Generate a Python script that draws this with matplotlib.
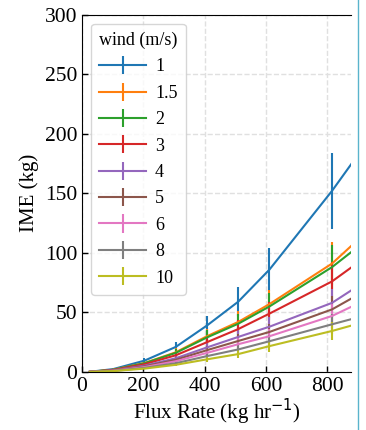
import numpy as np
import matplotlib
matplotlib.use("Agg")
import matplotlib.pyplot as plt
from matplotlib.lines import Line2D

plt.rcParams['font.family'] = 'Liberation Serif'
plt.rcParams['font.size'] = 15

# flux rates (kg/hr) of the simulated points
flux = [25.5, 102, 204, 306, 408, 510, 612, 816, 1020]

winds = ['1', '1.5', '2', '3', '4', '5', '6', '8', '10']

ime_1 = [0.15, 2.4, 9.5, 21, 39, 59, 86, 152, 225]
ime_15 = [0.1, 1.9, 7.5, 16.5, 30, 42, 57, 91, 139]
ime_2 = [0.1, 1.8, 7.3, 16, 29, 40.5, 55, 88, 129]
ime_3 = [0.1, 1.6, 6.5, 14, 25, 36, 49, 76, 114]
ime_4 = [0.08, 1.3, 5.3, 11.5, 20.6, 29.4, 38, 58, 92]
ime_5 = [0.07, 1.2, 4.7, 10.2, 18.3, 26, 33.6, 52.5, 82]
ime_6 = [0.06, 1.0, 4.1, 9, 16, 23.3, 30, 47, 72]
ime_8 = [0.05, 0.85, 3.4, 7.3, 13.3, 18.9, 25.8, 40, 54]
ime_10 = [0.04, 0.7, 2.8, 6, 10.6, 15, 21.7, 34.4, 49]

err_1 = [0.03, 0.5, 2, 4.5, 8, 12, 18, 32, 47]
err_15 = [0.02, 0.4, 1.6, 3.5, 6.3, 8.8, 12, 18, 29]
err_2 = [0.02, 0.4, 1.5, 3.4, 6, 8.5, 11.5, 18.5, 27]
err_3 = [0.02, 0.3, 1.4, 3, 5.3, 7.5, 10, 16, 24]
err_4 = [0.02, 0.3, 1.1, 2.4, 4.3, 6.2, 8, 12, 19]
err_5 = [0.01, 0.25, 1, 2.1, 3.8, 5.5, 7, 11, 17]
err_6 = [0.01, 0.2, 0.9, 1.9, 3.4, 4.9, 6.3, 10, 15]
err_8 = [0.01, 0.2, 0.7, 1.5, 2.8, 4, 5.4, 8.4, 11]
err_10 = [0.01, 0.15, 0.6, 1.3, 2.2, 3.2, 4.6, 7.2, 10]

ime = [ime_1, ime_15, ime_2, ime_3, ime_4, ime_5, ime_6, ime_8, ime_10]
errs = [err_1, err_15, err_2, err_3, err_4, err_5, err_6, err_8, err_10]

fig = plt.figure(figsize=(3.66, 4.30), dpi=100)
ax = fig.add_axes([0.224, 0.135, 0.735, 0.831])

for w, y, e in zip(winds, ime, errs):
    ax.errorbar(flux, y, yerr=e, label=w, lw=1.5)

ax.set_xlim(0, 878)
ax.set_ylim(0, 300)
ax.set_xticks([0, 200, 400, 600, 800])
ax.set_yticks([0, 50, 100, 150, 200, 250, 300])
ax.grid(True, ls='--', color='#e0e0e0', lw=1)
ax.set_axisbelow(True)
ax.tick_params(direction='in', length=4, width=1, labelsize=15.5)
ax.spines['right'].set_visible(False)

ax.set_xlabel('Flux Rate (kg hr$^{-1}$)', fontsize=15, labelpad=1)
ax.set_ylabel('IME (kg)', fontsize=15)

leg = ax.legend(title='wind (m/s)', loc='upper left', fontsize=13,
                title_fontsize=13, handlelength=2.6, labelspacing=0.52,
                handletextpad=0.5, borderpad=0.45, fancybox=True)
leg.get_frame().set_edgecolor('#cccccc')

# thin border line at the right of the picture
fig.add_artist(Line2D([0.978, 0.978], [0, 1], color='#5ab4cc', lw=1,
                      transform=fig.transFigure))

fig.savefig('out.png', dpi=100)
